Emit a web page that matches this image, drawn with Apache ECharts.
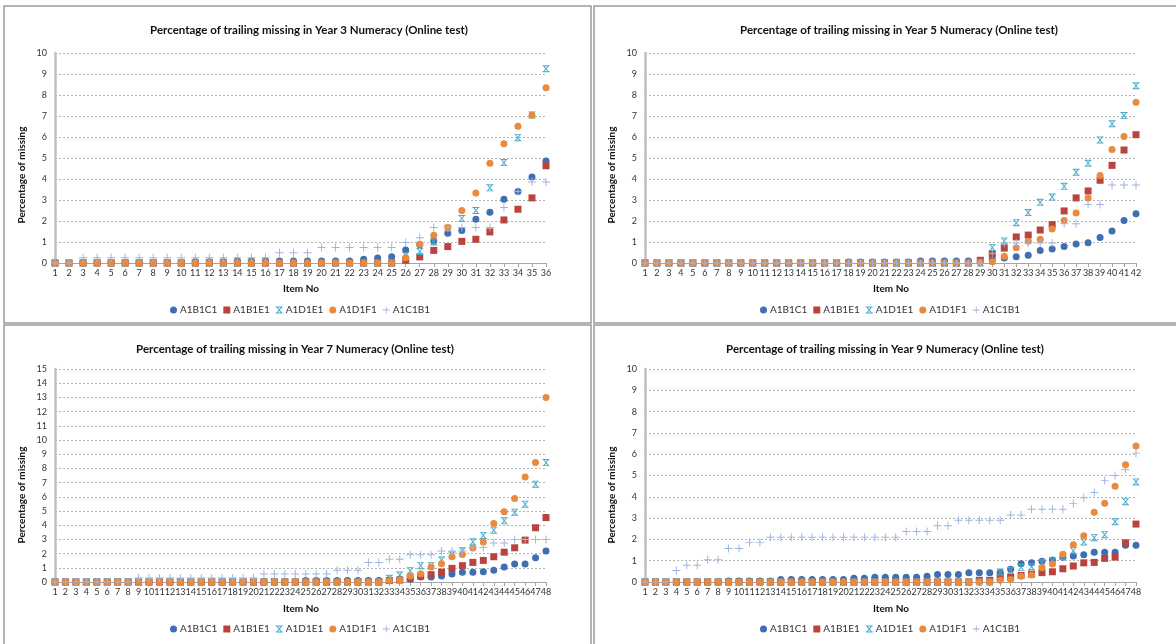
<!DOCTYPE html>
<html>
<head>
<meta charset="utf-8">
<script src="https://cdn.jsdelivr.net/npm/echarts@6/dist/echarts.min.js"></script>
<style>
html,body{margin:0;padding:0;background:#fff;}
#chart{width:1176px;height:644px;}
</style>
</head>
<body>
<div id="chart"></div>
<script>
// ---------- DATA ----------
const seriesNames = ['A1B1C1', 'A1B1E1', 'A1D1E1', 'A1D1F1', 'A1C1B1'];

const titles = [
  'Percentage of trailing missing in Year 3 Numeracy (Online test)',
  'Percentage of trailing missing in Year 5 Numeracy (Online test)',
  'Percentage of trailing missing in Year 7 Numeracy (Online test)',
  'Percentage of trailing missing in Year 9 Numeracy (Online test)'
];
const xAxisTitle = 'Item No';
const yAxisTitle = 'Percentage of missing';

// Year 3 (items 1..36)
const y3_A1B1C1 = [0,0,0.02,0.02,0.02,0.02,0.02,0.02,0.02,0.02,0.06,0.06,0.06,0.1,0.1,0.1,0.1,0.1,0.1,0.1,0.1,0.1,0.18,0.24,0.3,0.62,0.87,1.05,1.42,1.55,2.08,2.42,3.03,3.41,4.1,4.86];
const y3_A1B1E1 = [0,0,0,0,0,0,0,0,0,0,0,0,0,0,0,0,0,0,0,0,0,0,0,0,0,0.13,0.29,0.6,0.78,1.03,1.13,1.48,2.05,2.56,3.1,4.63];
const y3_A1D1E1 = [0,0,0,0,0,0,0,0,0,0,0,0,0,0,0,0,0,0,0,0,0,0,0,0,0,0.35,0.55,1.0,1.65,2.12,2.5,3.58,4.78,5.97,7.05,9.25];
const y3_A1D1F1 = [0,0,0,0,0,0,0,0,0,0,0,0,0,0,0,0,0,0,0,0,0,0,0,0,0,0.25,0.89,1.32,1.69,2.5,3.33,4.75,5.68,6.51,7.04,8.34];
const y3_A1C1B1 = [0,0,0.25,0.25,0.25,0.25,0.25,0.25,0.25,0.25,0.25,0.25,0.25,0.25,0.25,0.25,0.49,0.49,0.49,0.74,0.74,0.74,0.74,0.74,0.74,0.98,1.2,1.69,1.69,1.69,1.69,1.69,2.64,3.4,3.86,3.86];

// Year 5 (items 1..42)
const y5_A1B1C1 = [0,0,0,0,0,0,0,0,0,0,0,0,0,0,0,0,0,0.05,0.05,0.05,0.05,0.05,0.05,0.1,0.1,0.1,0.1,0.1,0.1,0.15,0.24,0.3,0.37,0.6,0.67,0.78,0.9,0.97,1.22,1.52,2.02,2.35];
const y5_A1B1E1 = [0,0,0,0,0,0,0,0,0,0,0,0,0,0,0,0,0,0,0,0,0,0,0,0,0,0,0,0,0.13,0.42,0.71,1.24,1.33,1.57,1.83,2.48,3.1,3.43,3.94,4.65,5.38,6.11];
const y5_A1D1E1 = [0,0,0,0,0,0,0,0,0,0,0,0,0,0,0,0,0,0,0,0,0,0,0,0,0,0,0,0,0,0.74,1.05,1.92,2.4,2.89,3.14,3.65,4.32,4.75,5.86,6.63,7.02,8.44];
const y5_A1D1F1 = [0,0,0,0,0,0,0,0,0,0,0,0,0,0,0,0,0,0,0,0,0,0,0,0,0,0,0,0,0.03,0.06,0.32,0.73,1.03,1.13,1.62,2.02,2.38,3.1,4.17,5.41,6.02,7.65];
const y5_A1C1B1 = [0,0,0,0,0,0,0,0,0,0,0,0,0,0,0,0,0,0,0,0,0,0,0,0,0,0,0,0,0,0.45,0.95,0.95,0.95,0.95,0.95,1.87,1.87,2.79,2.79,3.71,3.71,3.71];

// Year 7 (items 1..48)
const y7_A1B1C1 = [0,0,0,0,0,0,0,0,0,0,0,0,0,0,0,0,0,0,0,0,0,0,0,0,0.1,0.1,0.1,0.1,0.1,0.1,0.1,0.1,0.14,0.2,0.2,0.35,0.35,0.42,0.56,0.68,0.68,0.73,0.82,1.05,1.26,1.26,1.71,2.18];
const y7_A1B1E1 = [0,0,0,0,0,0,0,0,0,0,0,0,0,0,0,0,0,0,0,0,0,0,0,0,0,0,0,0,0,0,0,0,0.1,0.14,0.26,0.42,0.52,0.7,0.96,1.15,1.38,1.52,1.78,2.1,2.41,2.95,3.82,4.54];
const y7_A1D1E1 = [0,0,0,0,0,0,0,0,0,0,0,0,0,0,0,0,0,0,0,0,0,0,0,0,0,0,0,0,0,0,0,0,0.26,0.49,0.8,1.15,1.15,1.55,1.9,2.2,2.83,3.28,3.65,4.31,4.92,5.48,6.89,8.41];
const y7_A1D1F1 = [0,0,0,0,0,0,0,0,0,0,0,0,0,0,0,0,0,0,0,0,0,0,0,0,0,0,0,0,0,0,0,0,0.1,0.14,0.42,0.58,1.05,1.29,1.78,1.94,2.39,2.81,4.12,4.94,5.88,7.4,8.41,13.0];
const y7_A1C1B1 = [0,0,0,0,0,0,0,0,0.28,0.28,0.28,0.28,0.28,0.28,0.28,0.28,0.28,0.28,0.28,0.28,0.56,0.56,0.56,0.56,0.56,0.56,0.56,0.83,0.83,0.83,1.38,1.38,1.6,1.6,1.92,1.92,1.92,2.18,2.18,2.18,2.45,2.45,2.74,2.74,3.0,3.0,3.0,3.0];

// Year 9 (items 1..48)
const y9_A1B1C1 = [0,0,0,0,0,0,0,0,0.05,0.05,0.05,0.05,0.05,0.12,0.12,0.12,0.12,0.12,0.12,0.12,0.18,0.18,0.22,0.22,0.22,0.22,0.22,0.27,0.35,0.35,0.35,0.43,0.43,0.43,0.45,0.6,0.86,0.9,0.97,1.03,1.16,1.22,1.28,1.4,1.4,1.4,1.72,1.72];
const y9_A1B1E1 = [0,0,0,0,0,0,0,0,0,0,0,0,0,0,0,0,0,0,0,0,0,0,0,0,0,0,0,0,0,0,0,0,0.08,0.08,0.23,0.22,0.31,0.37,0.44,0.48,0.62,0.75,0.9,0.92,1.11,1.17,1.84,2.72];
const y9_A1D1E1 = [0,0,0,0,0,0,0,0,0,0,0,0,0,0,0,0,0,0,0,0,0,0,0,0,0,0,0,0,0,0,0,0,0,0,0.47,0.55,0.69,0.72,0.9,1.0,1.2,1.47,1.88,2.08,2.22,2.83,3.77,4.7];
const y9_A1D1F1 = [0,0,0,0,0,0,0,0,0,0,0,0,0,0,0,0,0,0,0,0,0,0,0,0,0,0,0,0,0,0,0,0,0,0,0.08,0.12,0.27,0.33,0.67,0.84,1.3,1.75,2.17,3.28,3.7,4.5,5.5,6.39];
const y9_A1C1B1 = [0,0,0,0.54,0.79,0.79,1.04,1.04,1.57,1.57,1.86,1.86,2.1,2.1,2.1,2.1,2.1,2.1,2.1,2.1,2.1,2.1,2.1,2.1,2.1,2.37,2.37,2.37,2.64,2.64,2.9,2.9,2.9,2.9,2.9,3.15,3.15,3.42,3.42,3.42,3.42,3.68,3.96,4.2,4.76,5.0,5.28,6.05];

const yMaxes = [10, 10, 15, 10];
const panelData = [
  [y3_A1B1C1, y3_A1B1E1, y3_A1D1E1, y3_A1D1F1, y3_A1C1B1],
  [y5_A1B1C1, y5_A1B1E1, y5_A1D1E1, y5_A1D1F1, y5_A1C1B1],
  [y7_A1B1C1, y7_A1B1E1, y7_A1D1E1, y7_A1D1F1, y7_A1C1B1],
  [y9_A1B1C1, y9_A1B1E1, y9_A1D1E1, y9_A1D1F1, y9_A1C1B1]
];

// ---------- STYLE / LAYOUT ----------
const FONT = 'Lato, "Open Sans", sans-serif';
const colors = ['#3F6EB2', '#B8433F', '#4AAAC8', '#E98A3C', '#9DB4DE'];
const symX = 'path://M0,0 H10 V1.3 H0 Z M0,8.7 H10 V10 H0 Z M1.0,1 L2.8,1 L9.0,9 L7.2,9 Z M7.2,1 L9.0,1 L2.8,9 L1.0,9 Z';
const symPlus = 'path://M4.4,0 H5.6 V4.4 H10 V5.6 H5.6 V10 H4.4 V5.6 H0 V4.4 H4.4 Z';
const symbols = ['circle', 'rect', symX, 'circle', symPlus];
const symSizes = [7, 7, 7, 7, 8];

const layout = [
  {grid:{left:55, top:53, width:491, height:210}, titleX:309, titleY:30, yNameX:22, yNameY:175, xNameX:301, xNameY:289, legendLeft:170, legendTop:305},
  {grid:{left:645, top:53, width:491, height:210}, titleX:899, titleY:30, yNameX:612, yNameY:175, xNameX:891, xNameY:289, legendLeft:760, legendTop:305},
  {grid:{left:55, top:369, width:491, height:213}, titleX:295, titleY:349, yNameX:22, yNameY:495, xNameX:301, xNameY:609, legendLeft:170, legendTop:624},
  {grid:{left:645, top:369, width:491, height:213}, titleX:885, titleY:349, yNameX:612, yNameY:495, xNameX:891, xNameY:609, legendLeft:760, legendTop:624}
];
const borders = [
  {x:4, y:6, width:587, height:317},
  {x:594, y:6, width:600, height:317},
  {x:4, y:325, width:587, height:340},
  {x:594, y:325, width:600, height:340}
];

const grids = [], xAxes = [], yAxes = [], series = [], legends = [], graphics = [];

borders.forEach(b => {
  graphics.push({type:'rect', shape:b, style:{fill:'none', stroke:'#9A9A9A', lineWidth:1.5}, silent:true, z:-1});
});

layout.forEach((L, p) => {
  const n = panelData[p][0].length;
  grids.push(Object.assign({containLabel:false}, L.grid));
  xAxes.push({
    type:'value', gridIndex:p, min:1, max:n, interval:1,
    axisLine:{show:true, onZero:false, lineStyle:{color:'#A6A6A6', width:1}},
    axisTick:{show:true, length:4, lineStyle:{color:'#A6A6A6'}},
    axisLabel:{fontSize:9, color:'#333', margin:6, fontFamily:FONT, showMinLabel:true, showMaxLabel:true},
    splitLine:{show:false}
  });
  yAxes.push({
    type:'value', gridIndex:p, min:0, max:yMaxes[p], interval:1,
    axisLine:{show:true, lineStyle:{color:'#BFBFBF', width:2.5}},
    axisTick:{show:false},
    axisLabel:{fontSize:9, color:'#333', margin:8, fontFamily:FONT},
    splitLine:{show:true, lineStyle:{color:'#B4B4B4', type:[2,2], width:1}}
  });
  panelData[p].forEach((vals, s) => {
    series.push({
      name: seriesNames[s], type:'scatter', xAxisIndex:p, yAxisIndex:p,
      data: vals.map((v, i) => [i + 1, v]),
      symbol: symbols[s], symbolSize: symSizes[s],
      itemStyle:{color: colors[s], opacity:1},
      clip:false, z: 2 + s
    });
  });
  legends.push({
    left:L.legendLeft, top:L.legendTop, orient:'horizontal', padding:0,
    data: seriesNames.map((nm, s) => ({name:nm, icon:symbols[s]})),
    itemWidth:7, itemHeight:7, itemGap:6,
    textStyle:{fontSize:10, color:'#333', fontFamily:FONT, padding:[0,0,0,-2]},
    selectedMode:false
  });
  graphics.push({type:'text', x:L.titleX, y:L.titleY, silent:true,
    style:{text:titles[p], align:'center', verticalAlign:'middle', font:'bold 11.5px ' + FONT, fill:'#111'}});
  graphics.push({type:'text', x:L.xNameX, y:L.xNameY, silent:true,
    style:{text:xAxisTitle, align:'center', verticalAlign:'middle', font:'bold 10px ' + FONT, fill:'#111'}});
  graphics.push({type:'text', x:L.yNameX, y:L.yNameY, rotation:Math.PI/2, silent:true,
    style:{text:yAxisTitle, align:'center', verticalAlign:'middle', font:'bold 10px ' + FONT, fill:'#111'}});
});

const chart = echarts.init(document.getElementById('chart'), null, {renderer:'canvas'});
chart.setOption({
  animation:false,
  backgroundColor:'#fff',
  grid:grids, xAxis:xAxes, yAxis:yAxes, series:series, legend:legends, graphic:graphics
});
</script>
</body>
</html>
